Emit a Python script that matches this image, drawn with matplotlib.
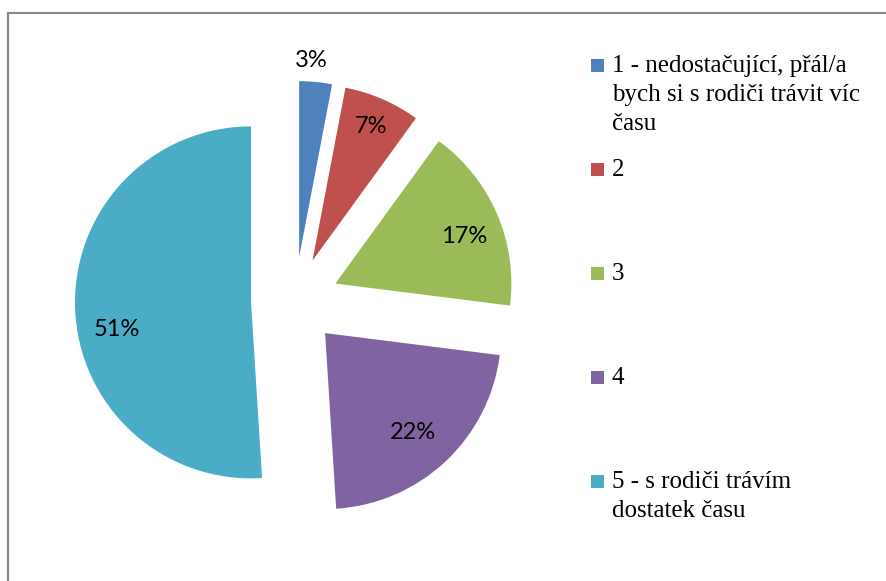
import matplotlib
matplotlib.use("Agg")
import matplotlib.pyplot as plt
import numpy as np
from matplotlib.lines import Line2D
from matplotlib.patches import Rectangle

categories = ["1 - nedostačující, přál/a\nbych si s rodiči trávit víc\nčasu",
              "2", "3", "4",
              "5 - s rodiči trávím\ndostatek času"]
values = [3, 7, 17, 22, 51]
colors = ["#4F81BD", "#C0504D", "#9BBB59", "#8064A2", "#4BACC6"]

W, H = 887, 581
fig = plt.figure(figsize=(W / 100, H / 100), dpi=100)

# pie geometry in pixels
R = 176.0
cx, cy = 295.0, 301.0
ax_w = 590.0
ax = fig.add_axes([0, 0, ax_w / W, 1])

wedges, texts, autotexts = ax.pie(values, colors=colors, startangle=90, counterclock=False,
                                  explode=[0.25] * len(values), radius=1.0,
                                  autopct=lambda p: f"{p:.0f}%", pctdistance=0.77,
                                  wedgeprops=dict(linewidth=0),
                                  textprops=dict(family="Lato", fontsize=17, color="black"))
ax.set_aspect("auto")
ax.set_xlim(-cx / R, (ax_w - cx) / R)
ax.set_ylim(-(H - cy) / R, cy / R)
ax.axis("off")

# label placement (distance from wedge apex, angular nudge in degrees) like Excel
label_dist = [1.12, 0.83, 0.78, 0.755, 0.775]
label_nudge = [1.9, -0.2, -3.2, -1.9, 9.7]
for w, t, d, nud in zip(wedges, autotexts, label_dist, label_nudge):
    ang = np.deg2rad((w.theta1 + w.theta2) / 2 + nud)
    c = w.center
    t.set_position((c[0] + d * np.cos(ang), c[1] + d * np.sin(ang)))

# chart border (top and left visible)
fig.add_artist(Line2D([8.5 / W, 8.5 / W], [0, 1 - 13 / H], transform=fig.transFigure,
                      color="#868686", lw=1.5))
fig.add_artist(Line2D([8.5 / W, 1], [1 - 13 / H, 1 - 13 / H], transform=fig.transFigure,
                      color="#868686", lw=1.5))

# legend drawn manually
marker_y0 = 65.0
step = 104.0
for i, (lab, col) in enumerate(zip(categories, colors)):
    yc = marker_y0 + i * step
    fig.add_artist(Rectangle((591 / W, 1 - (yc + 6.5) / H), 13 / W, 13 / H,
                             transform=fig.transFigure, facecolor=col, edgecolor="none"))
    fig.text(612 / W, 1 - (yc - 10) / H, lab, family="Liberation Serif", fontsize=18,
             va="top", ha="left", linespacing=1.42)

fig.savefig("out.png", dpi=100, facecolor="white")
